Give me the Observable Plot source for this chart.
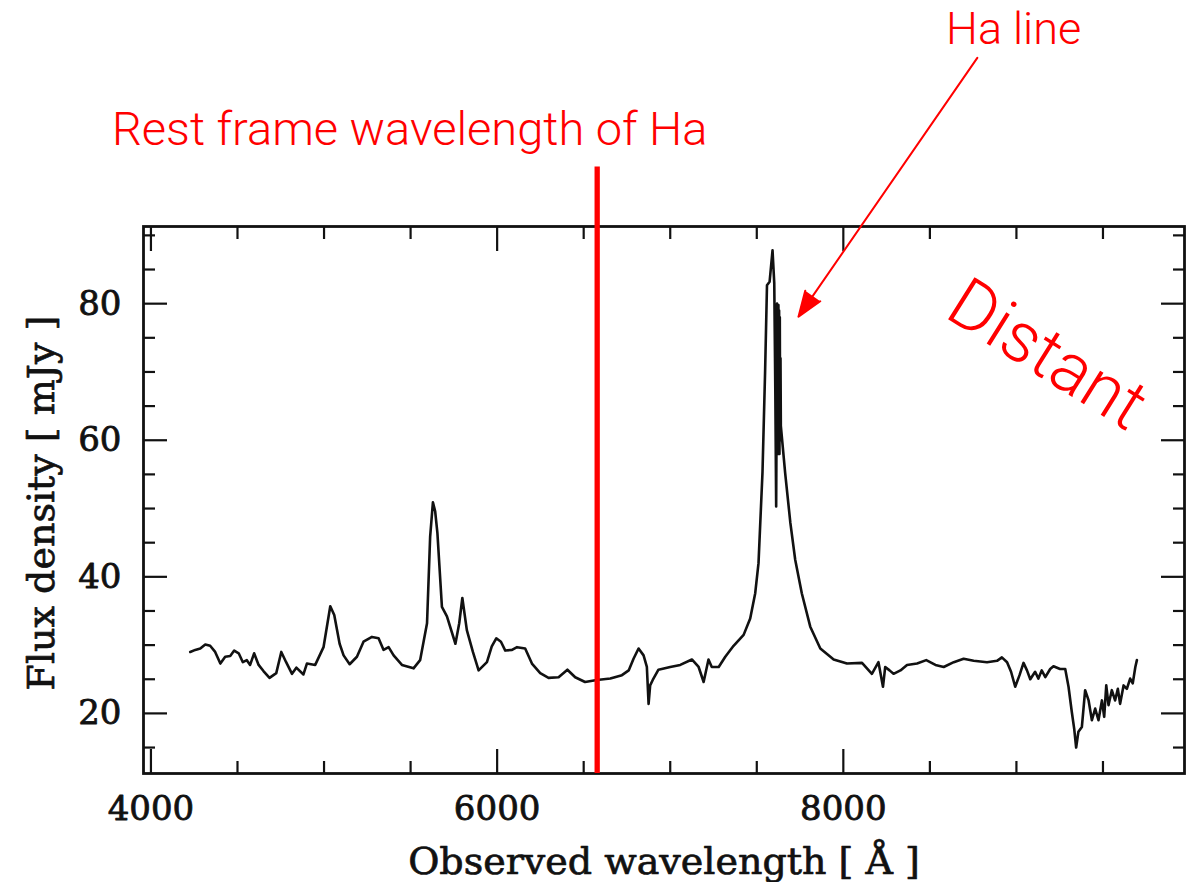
<!DOCTYPE html>
<html>
<head>
<meta charset="utf-8">
<script src="https://cdn.jsdelivr.net/npm/d3@7"></script>
<script src="https://cdn.jsdelivr.net/npm/@observablehq/plot@0.6"></script>
<style>
  html, body { margin: 0; padding: 0; background: #fff; }
  #chart svg { display: block; }
</style>
</head>
<body>
<div id="chart"></div>
<script>
// Observed wavelength (Å) and flux density (mJy)
const wavelengths = [
  4227, 4256, 4285, 4314, 4342, 4371, 4401, 4429, 4458, 4481, 4507, 4531, 4554, 4573, 4596, 4622,
  4650, 4685, 4724, 4753, 4781, 4815, 4840, 4881, 4901, 4949, 4997, 5036, 5059, 5090, 5113, 5148,
  5190, 5228, 5277, 5315, 5344, 5373, 5402, 5450, 5517, 5555, 5595, 5613, 5629, 5642, 5655, 5681,
  5710, 5759, 5781, 5799, 5825, 5860, 5893, 5941, 5969, 5995, 6022, 6047, 6086, 6115, 6162, 6201,
  6249, 6297, 6355, 6406, 6451, 6508, 6576, 6654, 6721, 6760, 6788, 6817, 6846, 6865, 6875, 6884,
  6899, 6932, 7000, 7058, 7125, 7164, 7193, 7221, 7240, 7280, 7318, 7366, 7424, 7462, 7491, 7510,
  7533, 7548, 7559, 7574, 7591, 7601, 7607, 7612, 7615, 7617, 7619, 7621, 7623, 7625, 7627, 7629,
  7631, 7633, 7635, 7637,
  7639, 7664, 7694, 7722, 7760, 7809, 7867, 7925, 7944, 8021, 8108, 8165, 8203, 8229, 8242, 8267,
  8290, 8330, 8368, 8426, 8479, 8532, 8580, 8638, 8695, 8753, 8830, 8888, 8916, 8946, 8969, 8993,
  9018, 9041, 9061, 9080, 9108, 9127, 9146, 9167, 9195, 9214, 9252, 9282, 9301, 9320, 9334, 9345,
  9358, 9378, 9397, 9417, 9436, 9455, 9474, 9494, 9507, 9519, 9532, 9551, 9570, 9586, 9599, 9619,
  9638, 9657, 9672, 9687, 9696
];
const fluxes = [
  29.0, 29.3, 29.5, 30.1, 29.9, 29.0, 27.3, 28.3, 28.4, 29.2, 28.8, 27.5, 27.8, 27.1, 28.8, 27.1,
  26.2, 25.2, 25.9, 29.0, 27.5, 25.8, 26.7, 25.7, 27.3, 27.1, 29.7, 35.7, 34.4, 30.2, 28.5, 27.2,
  28.3, 30.5, 31.2, 31.0, 29.3, 29.7, 28.5, 27.1, 26.6, 27.8, 33.2, 45.9, 50.9, 49.6, 46.4, 35.6,
  34.2, 30.2, 33.2, 36.9, 32.2, 29.0, 26.3, 27.5, 29.8, 31.0, 30.5, 29.2, 29.3, 29.7, 29.5, 27.3,
  25.9, 25.2, 25.3, 26.4, 25.3, 24.6, 24.9, 25.1, 25.6, 26.3, 28.0, 29.5, 28.5, 26.8, 21.4, 24.1,
  24.9, 26.4, 26.8, 27.1, 27.9, 26.8, 24.6, 27.9, 26.8, 26.8, 28.3, 29.9, 31.5, 33.9, 37.6, 42.0,
  55.3, 70.0, 82.7, 83.2, 87.8, 83.0, 67.5, 50.3, 66.0, 80.0, 60.0, 79.5, 58.0, 79.8, 60.0, 79.0,
  58.0, 78.0, 60.0, 72.0,
  62.1, 55.2, 47.9, 42.5, 37.6, 32.7, 29.5, 28.3, 27.9, 27.3, 27.4, 25.8, 27.5, 23.9, 26.8, 26.3,
  25.8, 26.3, 27.1, 27.3, 27.8, 27.1, 26.8, 27.5, 28.0, 27.7, 27.5, 27.7, 28.2, 27.5, 26.1, 23.9,
  25.6, 27.4, 26.3, 25.0, 26.1, 25.1, 26.3, 25.3, 26.5, 26.9, 26.5, 26.5, 23.9, 20.2, 17.7, 15.0,
  17.3, 18.0, 23.4, 21.9, 19.0, 20.7, 19.0, 21.9, 19.5, 24.1, 21.2, 23.4, 21.9, 23.6, 21.4, 24.1,
  23.6, 25.1, 24.4, 26.8, 27.8
];

// Axis extents and ticks
const xDomain = [3957, 9971];
const yDomain = [11.2, 91.3];
const xMajorTicks = [4000, 6000, 8000];
const xMinorTicks = [4500, 5000, 5500, 6500, 7000, 7500, 8500, 9000, 9500];
const yMajorTicks = [20, 40, 60, 80];
const yMinorTicks = [15, 25, 30, 35, 45, 50, 55, 65, 70, 75, 85, 90];
const xAxisLabel = "Observed wavelength [ Å ]";
const yAxisLabel = "Flux density [ mJy ]";

// Annotations (data units)
const restWavelength = [6578];
const restLineFlux = [yDomain[0], 100];
const arrowFrom = [8774, 116.0];
const arrowTo = [7741, 78.1];
const annotationTexts = ["Rest frame wavelength of Ha", "Ha line", "Distant"];
const annotationWavelengths = [5495, 8984, 9178];
const annotationFluxes = [105.4, 120.1, 72.5];
const annotationSizes = [47, 45, 70];
const annotationAngles = [0, 0, 32];

const spectrum = wavelengths.map((w, i) => ({wavelength: w, flux: fluxes[i]}));
const notes = annotationTexts.map((t, i) => ({
  text: t, wavelength: annotationWavelengths[i], flux: annotationFluxes[i],
  size: annotationSizes[i], angle: annotationAngles[i]
}));

const serif = "DejaVu Serif";
const sans = "Roboto, 'Noto Sans', sans-serif";
const ink = "#111";
const red = "#ff0000";

const chart = Plot.plot({
  width: 1197,
  height: 882,
  marginLeft: 143,
  marginRight: 13,
  marginTop: 226,
  marginBottom: 109,
  style: {background: "#fff", overflow: "visible"},
  x: {domain: xDomain},
  y: {domain: yDomain},
  marks: [
    Plot.line(spectrum, {x: "wavelength", y: "flux", stroke: ink, strokeWidth: 2.6, strokeLinejoin: "round"}),
    Plot.frame({stroke: ink, strokeWidth: 2.8}),
    // inward ticks on all four sides
    Plot.axisX(xMajorTicks, {anchor: "bottom", tickSize: -24, fill: "none", stroke: ink, strokeWidth: 2.2, label: null}),
    Plot.axisX(xMinorTicks, {anchor: "bottom", tickSize: -12, fill: "none", stroke: ink, strokeWidth: 2.2, label: null}),
    Plot.axisX(xMajorTicks, {anchor: "top", tickSize: -24, fill: "none", stroke: ink, strokeWidth: 2.2, label: null}),
    Plot.axisX(xMinorTicks, {anchor: "top", tickSize: -12, fill: "none", stroke: ink, strokeWidth: 2.2, label: null}),
    Plot.axisY(yMajorTicks, {anchor: "left", tickSize: -24, fill: "none", stroke: ink, strokeWidth: 2.2, label: null}),
    Plot.axisY(yMinorTicks, {anchor: "left", tickSize: -12, fill: "none", stroke: ink, strokeWidth: 2.2, label: null}),
    Plot.axisY(yMajorTicks, {anchor: "right", tickSize: -24, fill: "none", stroke: ink, strokeWidth: 2.2, label: null}),
    Plot.axisY(yMinorTicks, {anchor: "right", tickSize: -12, fill: "none", stroke: ink, strokeWidth: 2.2, label: null}),
    // tick labels
    Plot.axisX(xMajorTicks, {anchor: "bottom", tickSize: 0, tickPadding: 22, fill: ink, textStroke: ink, textStrokeWidth: 0.8, fontSize: 34, fontFamily: serif, label: null, tickFormat: d => String(d)}),
    Plot.axisY(yMajorTicks, {anchor: "left", tickSize: 0, tickPadding: 22, fill: ink, textStroke: ink, textStrokeWidth: 0.8, fontSize: 34, fontFamily: serif, label: null}),
    // axis titles
    Plot.text([xAxisLabel], {frameAnchor: "bottom", textAnchor: "middle", lineAnchor: "middle", dy: 88, text: d => d, fontSize: 38, fontFamily: serif, fill: ink, stroke: ink, strokeWidth: 0.7}),
    Plot.text([yAxisLabel], {frameAnchor: "left", textAnchor: "middle", lineAnchor: "middle", dx: -102, dy: 3, rotate: -90, text: d => d, fontSize: 38, fontFamily: serif, fill: ink, stroke: ink, strokeWidth: 0.7, letterSpacing: 1}),
    // annotations
    Plot.ruleX(restWavelength, {x: d => d, y1: restLineFlux[0], y2: restLineFlux[1], stroke: red, strokeWidth: 5.3}),
    Plot.arrow([{}], {x1: arrowFrom[0], y1: arrowFrom[1], x2: arrowTo[0], y2: arrowTo[1], stroke: red, fill: red, strokeWidth: 2, headLength: 20, headAngle: 40, insetEnd: 0}),
    ...notes.map(n => Plot.text([n], {x: "wavelength", y: "flux", text: "text", fill: red, fontSize: n.size, fontFamily: sans, fontWeight: 300, rotate: n.angle}))
  ]
});
document.getElementById("chart").appendChild(chart);
</script>
</body>
</html>
